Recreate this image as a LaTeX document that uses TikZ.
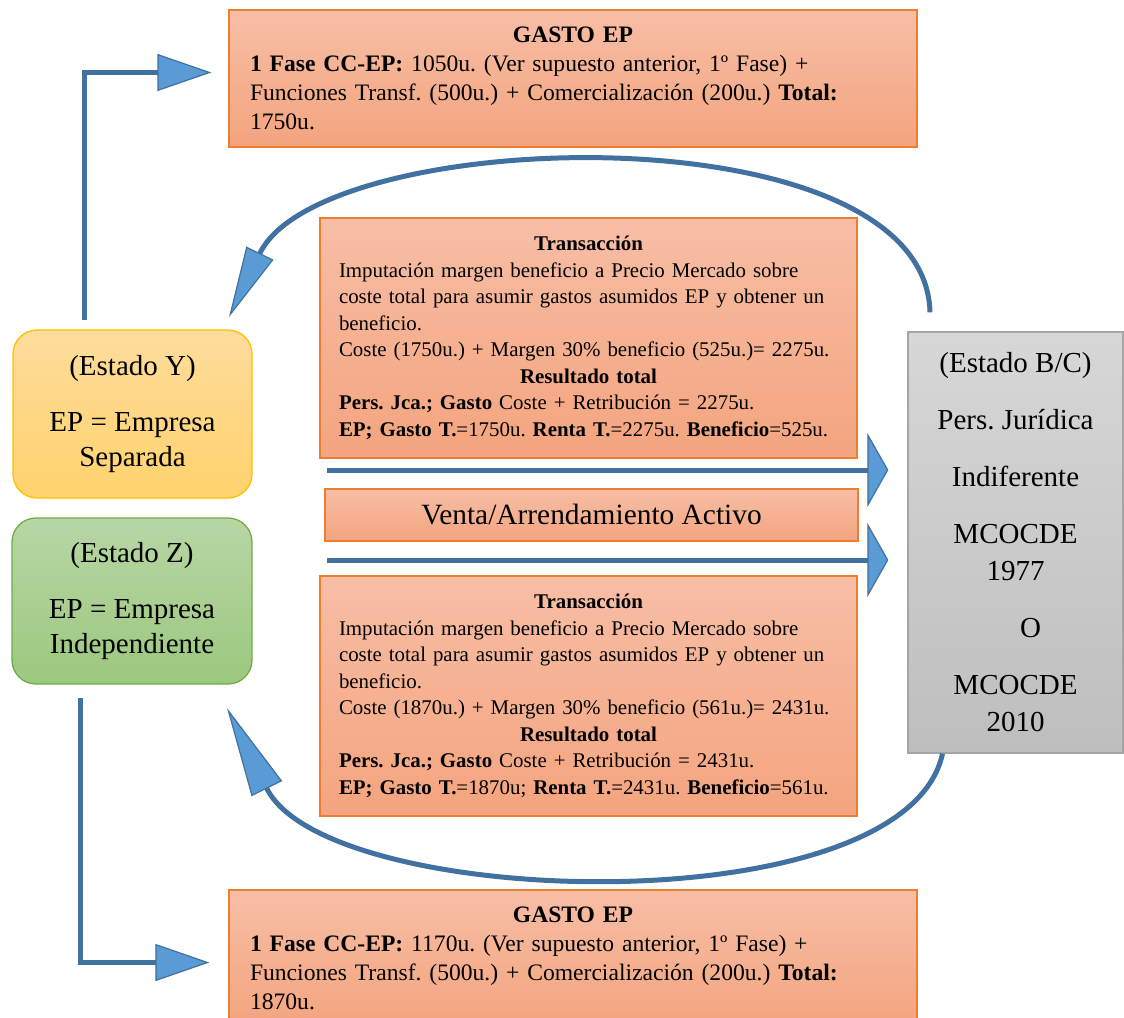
\documentclass[tikz,border=0pt]{standalone}
\usepackage{fontspec}
\setmainfont{Liberation Serif}
\usetikzlibrary{arrows.meta}
\definecolor{flowblue}{RGB}{65,113,160}
\definecolor{headblue}{RGB}{91,155,213}
\definecolor{peachline}{RGB}{237,125,49}
\definecolor{peachtop}{RGB}{247,190,166}
\definecolor{peachbot}{RGB}{244,164,126}
\definecolor{goldline}{RGB}{255,192,0}
\definecolor{goldtop}{RGB}{254,220,156}
\definecolor{goldbot}{RGB}{255,211,108}
\definecolor{greenline}{RGB}{112,173,71}
\definecolor{greentop}{RGB}{183,214,165}
\definecolor{greenbot}{RGB}{156,200,126}
\definecolor{greyline}{RGB}{165,165,165}
\definecolor{greytop}{RGB}{215,215,215}
\definecolor{greybot}{RGB}{190,190,190}
\newcommand{\boxhead}[1]{\makebox[\hsize]{\bfseries #1}}
\frenchspacing
\hyphenpenalty=10000

\begin{document}
\begin{tikzpicture}[x=1pt, y=-1pt,
    peach/.style={draw=peachline, line width=1.3pt, top color=peachtop, bottom color=peachbot, inner sep=0pt},
    gasto/.style={peach, minimum width=688pt, minimum height=137pt, text width=646pt, align=left, font=\fontsize{23.6}{29}\selectfont},
    trans/.style={peach, minimum width=537pt, minimum height=240pt, text width=499pt, align=left, font=\fontsize{20.9}{26.5}\selectfont},
    state/.style={rounded corners=24pt, line width=1.3pt, inner sep=0pt, align=center, font=\fontsize{29}{35}\selectfont},
    flow/.style={draw=flowblue, line width=5pt},
    elbowtip/.style={-{Triangle[length=54pt, width=37pt, fill=headblue, color=flowblue, line width=1.2pt]}},
    sidetip/.style={-{Triangle[length=21pt, width=74pt, fill=headblue, color=flowblue, line width=1.2pt]}},
    arctip/.style 2 args={-{Triangle[length=#1, width=#2, fill=headblue, color=flowblue, line width=1.2pt]}}
  ]
  \useasboundingbox (0,0) rectangle (1124,1017);
  \clip (0,0) rectangle (1124,1017);

  \node[gasto] (gastoA) at (573,78.5) {\boxhead{GASTO EP}\\
    \textbf{1 Fase CC-EP:} 1050u. (Ver supuesto anterior, 1º Fase) +\\
    Funciones Transf. (500u.) + Comercialización (200u.) \textbf{Total:}\\
    1750u.};
  \node[gasto] (gastoB) at (573,958.5) {\boxhead{GASTO EP}\\
    \textbf{1 Fase CC-EP:} 1170u. (Ver supuesto anterior, 1º Fase) +\\
    Funciones Transf. (500u.) + Comercialización (200u.) \textbf{Total:}\\
    1870u.};

  \node[trans] (transA) at (588.5,338) {\boxhead{Transacción}\\
    Imputación margen beneficio a Precio Mercado sobre\\
    coste total para asumir gastos asumidos EP y obtener un\\
    beneficio.\\
    Coste (1750u.) + Margen 30\% beneficio (525u.)= 2275u.\\
    \boxhead{Resultado total}\\
    \textbf{Pers. Jca.; Gasto} Coste + Retribución = 2275u.\\
    \textbf{EP; Gasto T.}=1750u. \textbf{Renta T.}=2275u. \textbf{Beneficio}=525u.};
  \node[trans] (transB) at (588.5,696) {\boxhead{Transacción}\\
    Imputación margen beneficio a Precio Mercado sobre\\
    coste total para asumir gastos asumidos EP y obtener un\\
    beneficio.\\
    Coste (1870u.) + Margen 30\% beneficio (561u.)= 2431u.\\
    \boxhead{Resultado total}\\
    \textbf{Pers. Jca.; Gasto} Coste + Retribución = 2431u.\\
    \textbf{EP; Gasto T.}=1870u; \textbf{Renta T.}=2431u. \textbf{Beneficio}=561u.};

  \node[peach, minimum width=533pt, minimum height=52pt, font=\fontsize{29.4}{35}\selectfont] (venta) at (591.5,515) {Venta/Arrendamiento Activo};

  \node[state, draw=goldline, top color=goldtop, bottom color=goldbot, minimum width=239pt, minimum height=168pt] (esty) at (132.5,414) {(Estado Y)\\[21pt] EP = Empresa\\ Separada};
  \node[state, draw=greenline, top color=greentop, bottom color=greenbot, minimum width=240pt, minimum height=166pt] (estz) at (132,601) {(Estado Z)\\[21pt] EP = Empresa\\ Independiente};

  \node[draw=greyline, line width=1.3pt, top color=greytop, bottom color=greybot, minimum width=215pt, minimum height=421pt, inner sep=0pt, align=center, font=\fontsize{29}{37}\selectfont] (gray) at (1015.5,542.5) {(Estado B/C)\\[20pt] Pers. Jurídica\\[20pt] Indiferente\\[20pt] MCOCDE\\ 1977\\[20pt] \hspace*{30pt}O\\[20pt] MCOCDE\\ 2010};

  \coordinate (feedA) at (327,470);
  \coordinate (feedB) at (327,560);
  \coordinate (retA) at (229,317);
  \coordinate (retB) at (227,708);

  \draw[flow, elbowtip] ([xshift=-48pt, yshift=9pt]esty.north) |- ([xshift=-17pt, yshift=6pt]gastoA.west);
  \draw[flow, elbowtip] ([xshift=-52pt, yshift=-13pt]estz.south) |- ([xshift=-19pt, yshift=-4pt]gastoB.west);
  \draw[flow, sidetip, shorten >=19pt] (feedA) -- (feedA -| gray.west);
  \draw[flow, sidetip, shorten >=19pt] (feedB) -- (feedB -| gray.west);
  \draw[flow, arctip={71pt}{30pt}] ([xshift=-85.5pt, yshift=19pt]gray.north) .. controls (925,108) and (322,125) .. (retA);
  \draw[flow, arctip={90pt}{34pt}] ([xshift=-73pt]gray.south) .. controls (905,927) and (327,910) .. (retB);
\end{tikzpicture}
\end{document}
